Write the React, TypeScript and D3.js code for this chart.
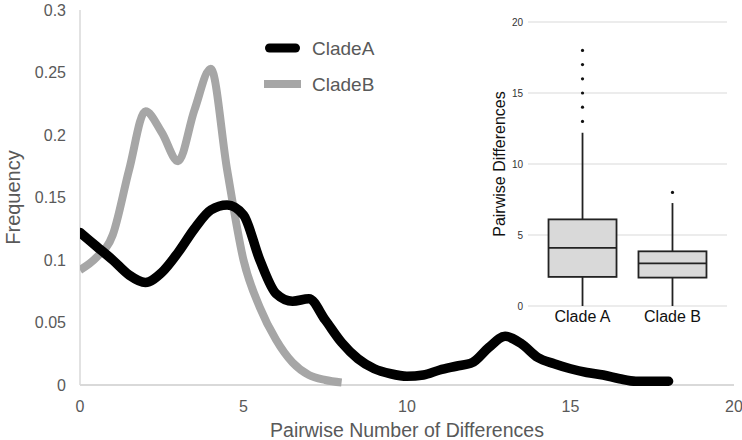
import React from "react";
import * as d3 from "d3";

const W = 742;
const H = 440;
const FONT = "'Liberation Sans', Arial, sans-serif";

// Main density chart data
const diffX = [0, 0.5, 1, 1.5, 2, 2.5, 3, 3.5, 4, 4.5, 5, 5.5, 6, 6.5, 7, 7.5, 8, 8.5, 9, 9.5, 10, 10.5, 11, 11.5, 12, 12.5, 13, 13.5, 14, 14.5, 15, 15.5, 16, 16.5, 17, 17.5, 18];
const cladeAFreq = [0.122, 0.111, 0.1, 0.088, 0.082, 0.09, 0.106, 0.125, 0.14, 0.144, 0.136, 0.1, 0.073, 0.067, 0.069, 0.052, 0.034, 0.021, 0.013, 0.009, 0.007, 0.008, 0.012, 0.015, 0.018, 0.03, 0.039, 0.033, 0.022, 0.017, 0.013, 0.01, 0.008, 0.005, 0.003, 0.003, 0.003];
const diffXB = [0, 0.5, 1, 1.5, 2, 2.5, 3, 3.5, 4, 4.5, 5, 5.5, 6, 6.5, 7, 7.5, 8];
const cladeBFreq = [0.092, 0.102, 0.12, 0.172, 0.219, 0.202, 0.179, 0.22, 0.253, 0.172, 0.1, 0.062, 0.036, 0.018, 0.008, 0.004, 0.002];

const xTicks = [0, 5, 10, 15, 20];
const yTicks = [0, 0.05, 0.1, 0.15, 0.2, 0.25, 0.3];
const seriesNames = ["CladeA", "CladeB"];

// Inset box plot data
const boxCategories = ["Clade A", "Clade B"];
const boxLow = [0, 0];
const boxQ1 = [2.05, 2.0];
const boxMedian = [4.1, 3.0];
const boxQ3 = [6.1, 3.85];
const boxHigh = [12.2, 7.25];
const outliersA = [13, 14, 15, 16, 17, 18];
const outliersB = [8];
const insetTicks = [0, 5, 10, 15, 20];

export default function App() {
  const x = d3.scaleLinear().domain([0, 20]).range([80, 734]);
  const y = d3.scaleLinear().domain([0, 0.3]).range([385, 10]);

  const line = d3
    .line<[number, number]>()
    .x((d) => x(d[0]))
    .y((d) => y(d[1]))
    .curve(d3.curveMonotoneX);

  const ptsA: [number, number][] = diffX.map((v, i) => [v, cladeAFreq[i]]);
  const ptsB: [number, number][] = diffXB.map((v, i) => [v, cladeBFreq[i]]);

  const iy = d3.scaleLinear().domain([0, 20]).range([306, 22]);
  const ix = d3.scalePoint<string>().domain(boxCategories).range([528, 727]).padding(0.606);
  const boxW = 68;
  const outliers = [outliersA, outliersB];

  const textGray = "#595959";

  return (
    <svg
      width={W}
      height={H}
      style={{ position: "absolute", left: 0, top: 0, background: "#fff" }}
      fontFamily={FONT}
    >
      <defs>
        <clipPath id="plotClip">
          <rect x={80} y={0} width={662} height={440} />
        </clipPath>
      </defs>
      <rect x={0} y={0} width={W} height={H} fill="#fff" />

      {/* axes */}
      <line x1={80} x2={80} y1={10} y2={385} stroke="#d9d9d9" strokeWidth={1.5} />
      <line x1={80} x2={734} y1={385} y2={385} stroke="#d9d9d9" strokeWidth={2} />

      {yTicks.map((t) => (
        <text
          key={"y" + t}
          x={66}
          y={y(t)}
          dy="0.35em"
          textAnchor="end"
          fontSize={16}
          fill={textGray}
        >
          {t}
        </text>
      ))}
      {xTicks.map((t) => (
        <text
          key={"x" + t}
          x={x(t)}
          y={406}
          dy="0.35em"
          textAnchor="middle"
          fontSize={16}
          fill={textGray}
        >
          {t}
        </text>
      ))}
      <text x={407} y={430} dy="0.35em" textAnchor="middle" fontSize={19.5} fill={textGray}>
        Pairwise Number of Differences
      </text>
      <text
        transform={`translate(13,${(10 + 385) / 2}) rotate(-90)`}
        dy="0.35em"
        textAnchor="middle"
        fontSize={20}
        fill={textGray}
      >
        Frequency
      </text>

      {/* curves */}
      <g clipPath="url(#plotClip)">
        <path d={line(ptsB) || ""} fill="none" stroke="#a6a6a6" strokeWidth={8} strokeLinecap="butt" strokeLinejoin="round" />
        <path d={line(ptsA) || ""} fill="none" stroke="#000" strokeWidth={9.5} strokeLinecap="round" strokeLinejoin="round" />
      </g>

      {/* legend */}
      <line x1={269.5} x2={295.5} y1={48} y2={48} stroke="#000" strokeWidth={9} strokeLinecap="round" />
      <text x={312} y={48} dy="0.35em" fontSize={19} fill={textGray}>
        {seriesNames[0]}
      </text>
      <line x1={264} x2={301} y1={84} y2={84} stroke="#a6a6a6" strokeWidth={8} />
      <text x={312} y={84} dy="0.35em" fontSize={19} fill={textGray}>
        {seriesNames[1]}
      </text>

      {/* inset box plot */}
      <g>
        {insetTicks.map((t) => (
          <g key={"it" + t}>
            <line x1={528} x2={727} y1={iy(t)} y2={iy(t)} stroke="#d9d9d9" strokeWidth={1} />
            <text x={523} y={iy(t)} dy="0.35em" textAnchor="end" fontSize={10} fill="#333">
              {t}
            </text>
          </g>
        ))}
        <text
          transform={`translate(499,${iy(10)}) rotate(-90)`}
          dy="0.35em"
          textAnchor="middle"
          fontSize={16}
          fill="#111"
        >
          Pairwise Differences
        </text>
        {boxCategories.map((c, i) => {
          const cx = ix(c) as number;
          return (
            <g key={c}>
              <line x1={cx} x2={cx} y1={iy(boxLow[i])} y2={iy(boxHigh[i])} stroke="#222" strokeWidth={1.8} />
              <rect
                x={cx - boxW / 2}
                y={iy(boxQ3[i])}
                width={boxW}
                height={iy(boxQ1[i]) - iy(boxQ3[i])}
                fill="#d9d9d9"
                stroke="#222"
                strokeWidth={1.8}
              />
              <line
                x1={cx - boxW / 2}
                x2={cx + boxW / 2}
                y1={iy(boxMedian[i])}
                y2={iy(boxMedian[i])}
                stroke="#222"
                strokeWidth={1.8}
              />
              {outliers[i].map((o) => (
                <circle key={o} cx={cx} cy={iy(o)} r={1.6} fill="#111" />
              ))}
              <text x={cx} y={316} dy="0.35em" textAnchor="middle" fontSize={16} fill="#111">
                {c}
              </text>
            </g>
          );
        })}
      </g>
    </svg>
  );
}
